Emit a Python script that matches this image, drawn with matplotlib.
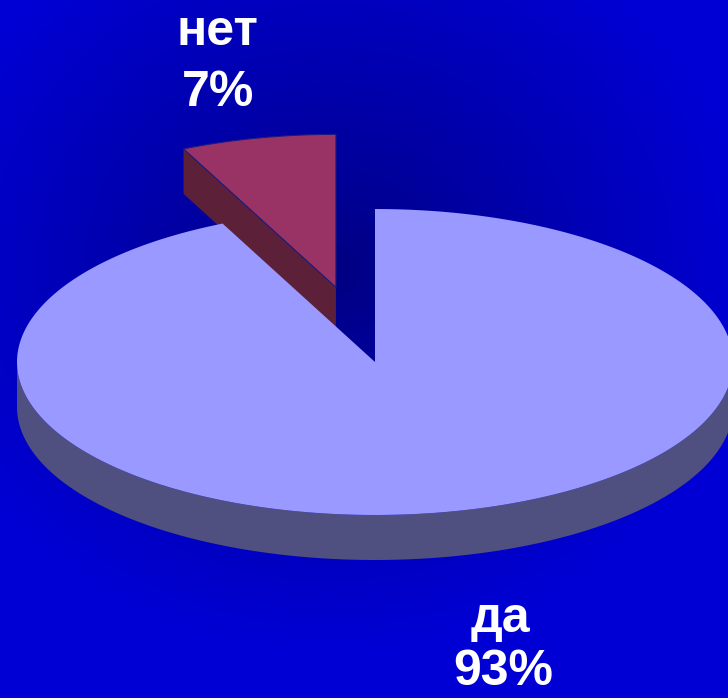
import matplotlib.pyplot as plt
import numpy as np
from matplotlib.patches import Polygon
from matplotlib import font_manager

# data
labels = ["да", "нет"]
shares = [93, 7]
pct_text = ["93%", "7%"]
explode = [0.0, 0.5]

face_colors = ["#9999ff", "#993366"]
side_colors = ["#4f4f80", "#5c2039"]

W, H = 728, 698
cx, cy = 375, 362      # pie centre in pixels
rx, ry = 358, 153      # ellipse radii
depth = 45

names = {f.name for f in font_manager.fontManager.ttflist}
font = ["Liberation Sans Narrow", "Liberation Sans", "DejaVu Sans"]
font = [f for f in font if f in names] or ["DejaVu Sans"]

fig = plt.figure(figsize=(W / 100, H / 100), dpi=100)
ax = fig.add_axes([0, 0, 1, 1])
ax.set_xlim(0, W)
ax.set_ylim(H, 0)
ax.axis("off")

# radial blue background, dark near the middle
yy, xx = np.mgrid[0:H, 0:W]
r = np.sqrt(((xx - 330) / 420) ** 2 + ((yy - 270) / 380) ** 2)
t = np.clip(r, 0, 1) ** 0.9
bg = np.zeros((H, W, 3))
bg[..., 2] = (0x80 + (0xd4 - 0x80) * t) / 255
ax.imshow(bg, extent=(0, W, H, 0), zorder=0)


def rim(theta, ox, oy, dz=0):
    return np.column_stack([ox + rx * np.cos(theta), oy - ry * np.sin(theta) + dz])


# angles: "нет" from 90 deg counter-clockwise, "да" takes the rest
start = np.deg2rad(90)
spans = [np.deg2rad(360 * s / sum(shares)) for s in shares]
net_a0, net_a1 = start, start + spans[1]
da_a0, da_a1 = net_a1, net_a1 + spans[0]

# exploded slice (нет) - drawn first, it sits behind
mid = (net_a0 + net_a1) / 2
ox = cx + rx * explode[1] * np.cos(mid)
oy = cy - ry * explode[1] * np.sin(mid)
edge = rim(np.array([net_a1]), ox, oy)[0]
side = [[ox, oy], edge, [edge[0], edge[1] + depth], [ox, oy + depth]]
ax.add_patch(Polygon(side, closed=True, fc=side_colors[1], ec="none", zorder=2))
th = np.linspace(net_a0, net_a1, 60)
top = np.vstack([[ox, oy], rim(th, ox, oy)])
ax.add_patch(Polygon(top, closed=True, fc=face_colors[1], ec="#1a1a80", lw=0.8, zorder=3))

# main slice (да)
th = np.linspace(np.pi, 2 * np.pi, 200)
side = np.vstack([rim(th, cx, cy), rim(th[::-1], cx, cy, depth)])
ax.add_patch(Polygon(side, closed=True, fc=side_colors[0], ec="none", zorder=4))
th = np.linspace(da_a0, da_a1, 400)
top = np.vstack([[cx, cy], rim(th, cx, cy)])
ax.add_patch(Polygon(top, closed=True, fc=face_colors[0], ec="none", zorder=5))

# labels
txt = dict(color="white", fontsize=36, fontweight="bold", family=font,
           ha="center", va="center", zorder=6)
ax.text(500, 619, labels[0], **txt)
ax.text(503, 672, pct_text[0], **txt)
ax.text(217, 32, labels[1], **txt)
ax.text(218, 93, pct_text[1], **txt)

fig.savefig("out.png", dpi=100)
